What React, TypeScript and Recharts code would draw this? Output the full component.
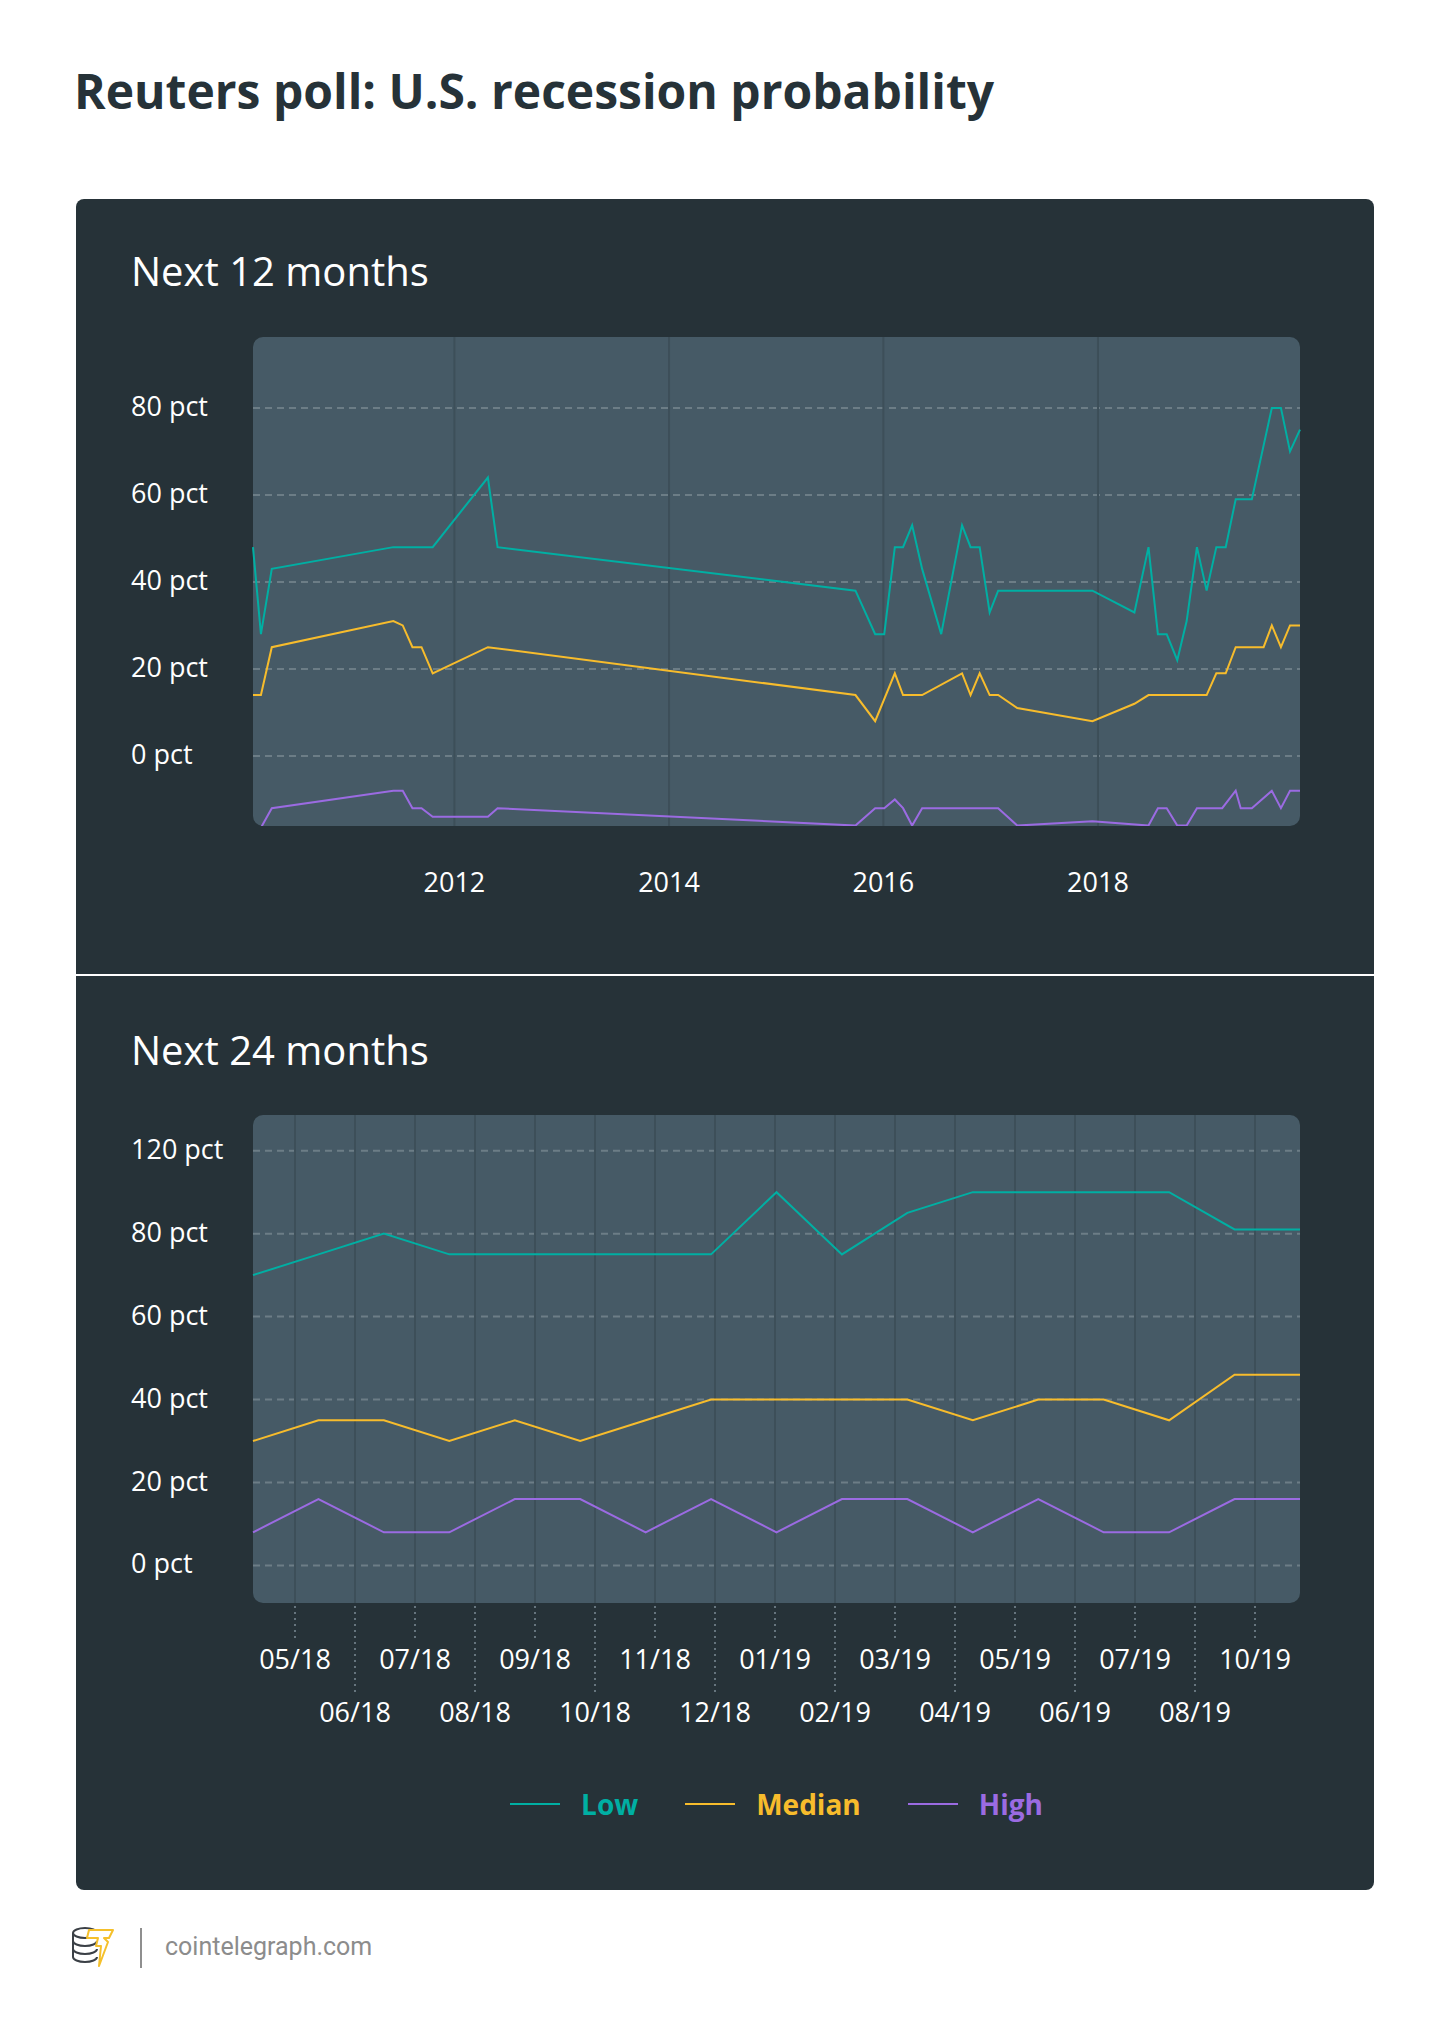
import React from 'react';
import { LineChart, Line, XAxis, YAxis, CartesianGrid, Legend } from 'recharts';

const LOW_COLOR = '#00afa3';
const MEDIAN_COLOR = '#f7bc2c';
const HIGH_COLOR = '#9b6be2';
const FONT = '"Open Sans", sans-serif';
const CARD_BG = '#263238';
const PLOT_BG = '#465a66';
const DASH_GRID = '#6c7d86';
const SOLID_GRID = '#3d4f59';

// ---------- Next 12 months ----------
const pollDates12 = [
  '2010-02-14', '2010-03-13', '2010-04-19', '2011-06-07', '2011-07-09', '2011-08-11',
  '2011-09-11', '2011-10-19', '2012-04-24', '2012-05-27', '2015-09-28', '2015-12-04',
  '2016-01-04', '2016-02-09', '2016-03-08', '2016-04-08', '2016-05-12', '2016-07-16',
  '2016-09-25', '2016-10-24', '2016-11-24', '2016-12-28', '2017-01-26', '2017-04-01',
  '2017-12-13', '2018-05-05', '2018-06-22', '2018-07-24', '2018-08-23', '2018-09-28',
  '2018-10-30', '2018-12-04', '2019-01-06', '2019-02-08', '2019-02-28', '2019-03-12',
  '2019-04-15', '2019-05-02', '2019-06-09', '2019-07-19', '2019-08-16', '2019-09-16',
  '2019-10-17', '2019-11-20',
];
const low12 = [
  48, 28, 43, 48, null, null,
  null, 48, 64, 48, 38, 28,
  28, 48, 48, 53, 43, 28,
  53, 48, 48, 33, 38, null,
  38, 33, 48, 28, 28, 22,
  31, 48, 38, 48, null, 48,
  59, null, 59, null, 80, 80,
  70, 75,
];
const median12 = [
  14, 14, 25, 31, 30, 25,
  25, 19, 25, null, 14, 8,
  null, 19, 14, null, 14, null,
  19, 14, 19, 14, 14, 11,
  8, 12, 14, null, null, null,
  null, null, 14, 19, null, 19,
  25, null, null, 25, 30, 25,
  30, 30,
];
const high12 = [
  -16.5, -16.5, -12, -8, -8, -12,
  -12, -14, -14, -12, -16, -12,
  -12, -10, -12, -16, -12, null,
  null, null, null, null, -12, -16,
  -15, null, -16, -12, -12, -16,
  -16, -12, null, null, -12, null,
  -8, -12, -12, null, -8, -12,
  -8, -8,
];
const yearTicks12 = [2012, 2014, 2016, 2018];
const yTicks12 = [0, 20, 40, 60, 80];

// ---------- Next 24 months ----------
const polls24 = [0, 1, 2, 3, 4, 5, 6, 7, 8, 9, 10, 11, 12, 13, 14, 15, 16];
const low24 = [70, 75, 80, 75, 75, 75, 75, 75, 90, 75, 85, 90, 90, 90, 90, 81, 81];
const median24 = [30, 35, 35, 30, 35, 30, 35, 40, 40, 40, 40, 35, 40, 40, 35, 46, 46];
const high24 = [8, 16, 8, 8, 16, 16, 8, 16, 8, 16, 16, 8, 16, 8, 8, 16, 16];
const monthLabels24 = [
  '05/18', '06/18', '07/18', '08/18', '09/18', '10/18', '11/18', '12/18', '01/19',
  '02/19', '03/19', '04/19', '05/19', '06/19', '07/19', '08/19', '10/19',
];
const yTicks24 = [0, 20, 40, 60, 80, 100];
const yTickLabels24 = ['0 pct', '20 pct', '40 pct', '60 pct', '80 pct', '120 pct'];
const legendOrder = ['Low', 'Median', 'High'];

const data12 = pollDates12.map((d, i) => ({
  t: Date.parse(d),
  low: low12[i],
  median: median12[i],
  high: high12[i],
}));
const yearTickTimes = yearTicks12.map((y) => Date.UTC(y, 0, 1));

const data24 = polls24.map((p, i) => ({
  poll: p,
  low: low24[i],
  median: median24[i],
  high: high24[i],
}));
const monthTickPos = monthLabels24.map((_, i) => i);

const renderYTick12 = (props: any) => (
  <text x={55} y={props.y} dy={8} fill="#ffffff" fontSize={27} fontFamily={FONT} textAnchor="start">
    {`${props.payload.value} pct`}
  </text>
);

const renderYTick24 = (props: any) => {
  const idx = yTicks24.indexOf(props.payload.value);
  return (
    <text x={55} y={props.y} dy={8} fill="#ffffff" fontSize={27} fontFamily={FONT} textAnchor="start">
      {yTickLabels24[idx]}
    </text>
  );
};

const renderXTick12 = (props: any) => (
  <text x={props.x} y={props.y + 66} fill="#ffffff" fontSize={27} fontFamily={FONT} textAnchor="middle">
    {new Date(props.payload.value).getUTCFullYear()}
  </text>
);

const renderXTick24 = (props: any) => {
  const v = props.payload.value;
  const second = v % 2 === 1;
  const lineEnd = second ? 93 : 38;
  const base = second ? 119 : 66;
  return (
    <g>
      <line
        x1={props.x}
        x2={props.x}
        y1={props.y + 3}
        y2={props.y + lineEnd}
        stroke="#66757e"
        strokeWidth={2}
        strokeDasharray="2 4"
      />
      <text x={props.x} y={props.y + base} fill="#ffffff" fontSize={27} fontFamily={FONT} textAnchor="middle">
        {monthLabels24[v]}
      </text>
    </g>
  );
};

const renderLegend = (props: any) => {
  const items = [...(props.payload || [])].sort(
    (a: any, b: any) => legendOrder.indexOf(a.value) - legendOrder.indexOf(b.value)
  );
  return (
    <div
      style={{
        display: 'flex',
        justifyContent: 'center',
        alignItems: 'center',
        height: 50,
        fontFamily: FONT,
        fontWeight: 700,
        fontSize: 28,
      }}
    >
      {items.map((e: any, i: number) => (
        <div key={i} style={{ display: 'flex', alignItems: 'center', marginLeft: i ? 47 : 0 }}>
          <span style={{ display: 'inline-block', width: 50, height: 2, background: e.color, marginRight: 21 }} />
          <span style={{ color: e.color, lineHeight: '40px' }}>{e.value}</span>
        </div>
      ))}
    </div>
  );
};

const abs = (left: number, top: number, extra: React.CSSProperties = {}): React.CSSProperties => ({
  position: 'absolute',
  left,
  top,
  ...extra,
});

const Logo = () => (
  <svg width="46" height="42" viewBox="0 0 46 42">
    <g fill="none" stroke="#3b4046" strokeWidth="2">
      <ellipse cx="14" cy="7" rx="12" ry="5" />
      <path d="M2 7 V31" />
      <path d="M2 15 A12 5 0 0 0 26 15" />
      <path d="M2 23 A12 5 0 0 0 26 23" />
      <path d="M2 31 A12 5 0 0 0 26 31" />
    </g>
    <path
      d="M18 4 H42 L38 12 H33 L37 16 L28 40 L30 20 H25 L27 12 H16 Z"
      fill="#ffffff"
      stroke="#f5c02b"
      strokeWidth="2"
      strokeLinejoin="round"
    />
  </svg>
);

export default function App() {
  return (
    <div style={abs(0, 0, { width: 1450, height: 2034, background: '#ffffff', overflow: 'hidden' })}>
      <div
        style={abs(74, 67, {
          fontFamily: FONT,
          fontWeight: 700,
          fontSize: 48,
          lineHeight: '48px',
          color: '#263238',
          whiteSpace: 'nowrap',
        })}
      >
        Reuters poll: U.S. recession probability
      </div>

      <div style={abs(76, 199, { width: 1298, height: 1691, background: CARD_BG, borderRadius: 8 })} />
      <div style={abs(76, 974, { width: 1298, height: 2, background: '#ffffff' })} />

      <div
        style={abs(131, 251, {
          fontFamily: FONT,
          fontSize: 40,
          lineHeight: '40px',
          color: '#ffffff',
          whiteSpace: 'nowrap',
        })}
      >
        Next 12 months
      </div>
      <div
        style={abs(131, 1030, {
          fontFamily: FONT,
          fontSize: 40,
          lineHeight: '40px',
          color: '#ffffff',
          whiteSpace: 'nowrap',
        })}
      >
        Next 24 months
      </div>

      {/* plot backgrounds */}
      <div style={abs(253, 337, { width: 1047, height: 489, background: PLOT_BG, borderRadius: 10 })} />
      <div style={abs(253, 1115, { width: 1047, height: 488, background: PLOT_BG, borderRadius: 10 })} />

      <div style={abs(76, 300)}>
        <LineChart width={1298} height={620} data={data12} margin={{ top: 37, right: 74, bottom: 0, left: 0 }}>
          <CartesianGrid vertical={false} syncWithTicks stroke={DASH_GRID} strokeWidth={2} strokeDasharray="7 5" />
          <CartesianGrid horizontal={false} syncWithTicks stroke={SOLID_GRID} strokeWidth={2} />
          <XAxis
            dataKey="t"
            type="number"
            domain={['dataMin', 'dataMax']}
            ticks={yearTickTimes}
            height={94}
            axisLine={false}
            tickLine={false}
            tickSize={0}
            tickMargin={0}
            tick={renderXTick12}
          />
          <YAxis
            width={177}
            domain={[-16.1, 96.3]}
            ticks={yTicks12}
            allowDataOverflow
            axisLine={false}
            tickLine={false}
            tick={renderYTick12}
          />
          <Line type="linear" dataKey="low" name="Low" stroke={LOW_COLOR} strokeWidth={2} dot={false} connectNulls isAnimationActive={false} />
          <Line type="linear" dataKey="median" name="Median" stroke={MEDIAN_COLOR} strokeWidth={2} dot={false} connectNulls isAnimationActive={false} />
          <Line type="linear" dataKey="high" name="High" stroke={HIGH_COLOR} strokeWidth={2} dot={false} connectNulls isAnimationActive={false} />
        </LineChart>
      </div>

      <div style={abs(76, 1080)}>
        <LineChart width={1298} height={780} data={data24} margin={{ top: 35, right: 74, bottom: 0, left: 0 }}>
          <CartesianGrid xAxisId="data" vertical={false} syncWithTicks stroke={DASH_GRID} strokeWidth={2} strokeDasharray="7 5" />
          <CartesianGrid xAxisId="ticks" horizontal={false} syncWithTicks stroke={SOLID_GRID} strokeWidth={2} />
          <XAxis
            xAxisId="ticks"
            dataKey="poll"
            type="number"
            domain={[-0.7, 16.75]}
            ticks={monthTickPos}
            allowDataOverflow
            height={257}
            axisLine={false}
            tickLine={false}
            tickSize={0}
            tickMargin={0}
            interval={0}
            tick={renderXTick24}
          />
          <XAxis xAxisId="data" dataKey="poll" type="category" hide height={0} />
          <YAxis
            width={177}
            domain={[-9.05, 108.6]}
            ticks={yTicks24}
            allowDataOverflow
            axisLine={false}
            tickLine={false}
            tick={renderYTick24}
          />
          <Line xAxisId="data" type="linear" dataKey="low" name="Low" stroke={LOW_COLOR} strokeWidth={2} dot={false} isAnimationActive={false} />
          <Line xAxisId="data" type="linear" dataKey="median" name="Median" stroke={MEDIAN_COLOR} strokeWidth={2} dot={false} isAnimationActive={false} />
          <Line xAxisId="data" type="linear" dataKey="high" name="High" stroke={HIGH_COLOR} strokeWidth={2} dot={false} isAnimationActive={false} />
          <Legend
            layout="horizontal"
            verticalAlign="middle"
            align="center"
            wrapperStyle={{ top: 699, left: 177, width: 1047, height: 50 }}
            content={renderLegend}
          />
        </LineChart>
      </div>

      {/* footer */}
      <div style={abs(71, 1926)}>
        <Logo />
      </div>
      <div style={abs(140, 1928, { width: 2, height: 40, background: '#8f8f8f' })} />
      <div
        style={abs(165, 1934, {
          fontFamily: 'Roboto, sans-serif',
          fontSize: 25,
          lineHeight: '25px',
          color: '#8c8c8c',
          whiteSpace: 'nowrap',
        })}
      >
        cointelegraph.com
      </div>
    </div>
  );
}
